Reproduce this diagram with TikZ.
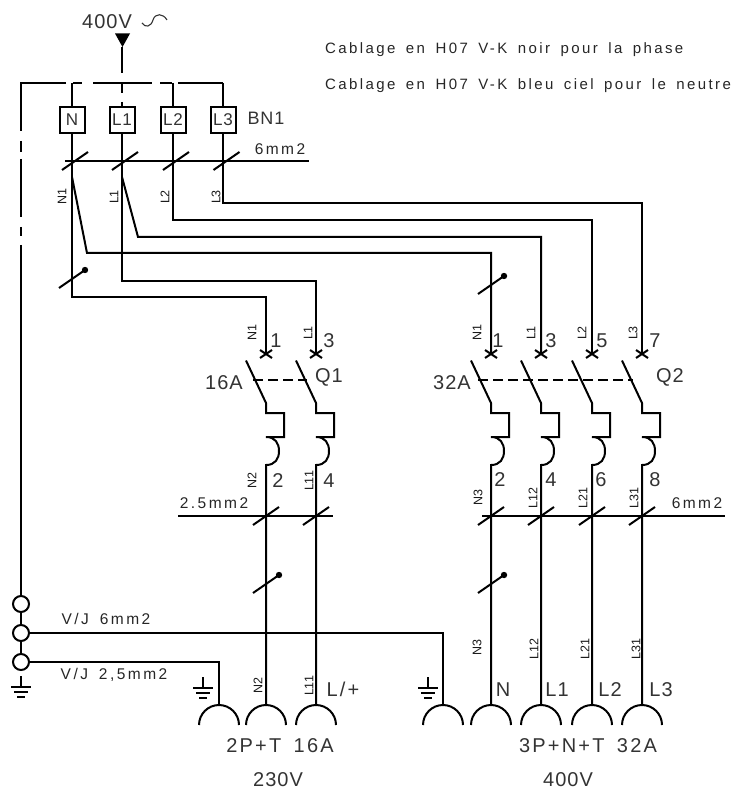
\documentclass[tikz,border=0pt]{standalone}
\usepackage{fontspec}
\setmainfont{Liberation Sans}
\newfontfamily\wf[LetterSpace=5]{Liberation Sans}
\newfontfamily\nf[LetterSpace=16,WordSpace=1.6]{Liberation Sans}
\newfontfamily\cf[LetterSpace=11,WordSpace=1.6]{Liberation Sans}
\tikzset{
 x=1pt,y=-1pt,
 wire/.style={line width=2pt,black,line cap=butt,line join=miter},
 termbox/.style={draw,line width=2pt,fill=white,minimum width=25pt,minimum height=26pt,inner sep=0pt,font=\wf\fontsize{17}{17}\selectfont,text=black!80},
 ring/.style={circle,draw,line width=2pt,fill=white,minimum size=16pt,inner sep=0pt},
 lab/.style={inner sep=0pt,font=\wf\fontsize{20}{20}\selectfont,text=black!80},
 wide/.style={inner sep=0pt,font=\cf\fontsize{20}{20}\selectfont,text=black!80},
 note/.style={inner sep=0pt,anchor=west,font=\nf\fontsize{15}{15}\selectfont,text=black!85},
 mid/.style={inner sep=0pt,font=\nf\fontsize{15.5}{15.5}\selectfont,text=black!85},
 tag/.style={inner sep=0pt,rotate=90,font=\fontsize{12.5}{12.5}\selectfont,text=black!90},
}
\newcommand{\myground}[2]{%
 \draw[wire] (#1,#2) -- (#1,#2+11);
 \draw[wire] (#1-10,#2+11) -- (#1+10,#2+11);
 \draw[wire] (#1-7,#2+16) -- (#1+7,#2+16);
 \draw[wire] (#1-4,#2+21) -- (#1+4,#2+21);}
\newcommand{\myslash}[2]{\draw[wire] (#1-13,#2+9) -- (#1+13,#2-9);}
\newcommand{\mydot}[2]{\draw[wire] (#1-13,#2+9) -- (#1+13,#2-9); \fill (#1+13,#2-9) circle[radius=3.2];}
\newcommand{\mybreaker}[1]{%
 \draw[wire] (#1-6,350) -- (#1+6,358) (#1-6,358) -- (#1+6,350);
 \draw[wire] (#1-20,360.5) -- (#1,403) -- (#1,413) -- (#1+18,413) -- (#1+18,437) -- (#1,437)
   .. controls (#1+9,437) and (#1+13,443) .. (#1+13,451)
   .. controls (#1+13,459) and (#1+9,465) .. (#1,465) -- (#1,705);}
\newcommand{\mysocket}[1]{%
 \draw[wire] (#1-20,725) .. controls (#1-20,714) and (#1-11,705) .. (#1,705)
   .. controls (#1+11,705) and (#1+20,714) .. (#1+20,725);}
\begin{document}
\begin{tikzpicture}
\useasboundingbox (0,0) rectangle (733,791);
% supply
\fill (115,33.5) -- (130,33.5) -- (122.5,47) -- cycle;
\draw[wire] (122,47) -- (122,73);
\node[lab] (v400) at (107,21.5) {400V};
\draw[wire,line width=1.1pt,black!80] (142,23) .. controls (145,28) and (151,27) .. (153,20) .. controls (155,13) and (163,13) .. (167,20);
% notes
\node[note] (n1) at (325,50) {Cablage en H07 V-K noir pour la phase};
\node[note] (n2) at (325,86) {Cablage en H07 V-K bleu ciel pour le neutre};
% bus
\draw[wire] (66,83) -- (21,83) -- (21,131);
\draw[wire] (21,141) -- (21,152) (21,159) -- (21,217) (21,227) -- (21,236);
\draw[wire] (73,83) -- (82,83) (93,83) -- (152,83) (160,83) -- (172,83) (178,83) -- (223,83);
\draw[wire] (122,83) -- (122,93) (122,102) -- (122,107);
% terminals
\node[termbox] (bN) at (72,120) {N};
\node[termbox] (bA) at (122,120) {L1};
\node[termbox] (bB) at (173,120) {L2};
\node[termbox] (bC) at (223,120) {L3};
\node[lab,font=\wf\fontsize{18}{18}\selectfont] (bn1) at (266,118) {BN1};
\draw[wire] (72,83) -- (bN);
\draw[wire] (173,83) -- (bB);
\draw[wire] (223,83) -- (bC);
% rings
\node[ring] (r1) at (21,604) {};
\node[ring] (r2) at (21,633) {};
\node[ring] (r3) at (21,662) {};
\draw[wire] (21,245) -- (r1);
\draw[wire] (r1) -- (r2);
\draw[wire] (r2) -- (r3);
\myground{21}{676}
\myground{203}{677}
\myground{428}{677}
% feeders
\draw[wire] (bN) -- (72,297) -- (266,297) -- (266,354);
\draw[wire] (bA) -- (122,281) -- (316,281) -- (316,354);
\draw[wire] (bB) -- (173,220) -- (592,220) -- (592,354);
\draw[wire] (bC) -- (223,203) -- (642,203) -- (642,354);
\draw[wire] (72,177) -- (87,253) -- (491,253) -- (491,354);
\draw[wire] (122,177) -- (138,237) -- (541,237) -- (541,354);
% horizontal cable bars
\draw[wire] (65,161) -- (309,161);
\draw[wire] (178,516) -- (333,516);
\draw[wire] (482,516) -- (725,516);
\foreach \q in {75,125,176,226.5}{\myslash{\q}{161}}
\foreach \q in {266,316,491,541,592,642}{\myslash{\q}{516}}
\mydot{72}{279}
\mydot{266}{584}
\mydot{491}{285}
\mydot{491}{584}
% breakers
\foreach \q in {266,316,491,541,592,642}{\mybreaker{\q}}
\draw[wire,dash pattern=on 10pt off 5pt] (253,380) -- (307,380);
\draw[wire,dash pattern=on 10pt off 5pt] (478,380) -- (633,380);
% earth
\draw[wire] (r2) -- (443,633) -- (443,705);
\draw[wire] (r3) -- (219,662) -- (219,705);
\foreach \q in {219,266,316,443,491,541,592,642}{\mysocket{\q}}
% labels
\node[tag] (t1) at (62,197) {N1};
\node[tag] (t2) at (114,197) {L1};
\node[tag] (t3) at (165,197) {L2};
\node[tag] (t4) at (216,197) {L3};
\node[tag] (t5) at (252,333) {N1};
\node[tag] (t6) at (308,333) {L1};
\node[tag] (t7) at (477,333) {N1};
\node[tag] (t8) at (531,333) {L1};
\node[tag] (t9) at (582,333) {L2};
\node[tag] (t10) at (633,333) {L3};
\node[tag] (t11) at (252,481) {N2};
\node[tag] (t12) at (309,481) {L11};
\node[tag] (t13) at (478,498) {N3};
\node[tag] (t14) at (533,498) {L12};
\node[tag] (t15) at (583,498) {L21};
\node[tag] (t16) at (634,498) {L31};
\node[tag] (t17) at (258,686) {N2};
\node[tag] (t18) at (309,686) {L11};
\node[tag] (t19) at (477,648) {N3};
\node[tag] (t20) at (534,649) {L12};
\node[tag] (t21) at (585,649) {L21};
\node[tag] (t22) at (636,649) {L31};
\node[lab] (a1) at (276,341) {1};
\node[lab] (a2) at (329,341) {3};
\node[lab] (a3) at (498,341) {1};
\node[lab] (a4) at (551,341) {3};
\node[lab] (a5) at (602,341) {5};
\node[lab] (a6) at (655,341) {7};
\node[lab] (a7) at (278,481) {2};
\node[lab] (a8) at (329,481) {4};
\node[lab] (a9) at (500,480) {2};
\node[lab] (a10) at (551,480) {4};
\node[lab] (a11) at (601,480) {6};
\node[lab] (a12) at (655,480) {8};
\node[lab] (q1) at (329,377) {Q1};
\node[lab] (q2) at (670,377) {Q2};
\node[lab] (i1) at (224,383) {16A};
\node[lab] (i2) at (452,383) {32A};
\node[mid] (s1) at (280,149) {6mm2};
\node[mid] (s2) at (214,503) {2.5mm2};
\node[mid] (s3) at (697,503) {6mm2};
\node[mid] (s4) at (106,619) {V/J 6mm2};
\node[mid] (s5) at (114,675) {V/J 2,5mm2};
\node[wide] (p1) at (343,689) {L/+};
\node[lab] (p2) at (503,690) {N};
\node[lab] (p3) at (557,690) {L1};
\node[lab] (p4) at (610,690) {L2};
\node[lab] (p5) at (661,690) {L3};
\node[wide] (c1) at (280,746) {2P+T 16A};
\node[lab] (c2) at (278,780) {230V};
\node[wide] (c3) at (588,746) {3P+N+T 32A};
\node[lab] (c4) at (568,780) {400V};
\end{tikzpicture}
\end{document}
